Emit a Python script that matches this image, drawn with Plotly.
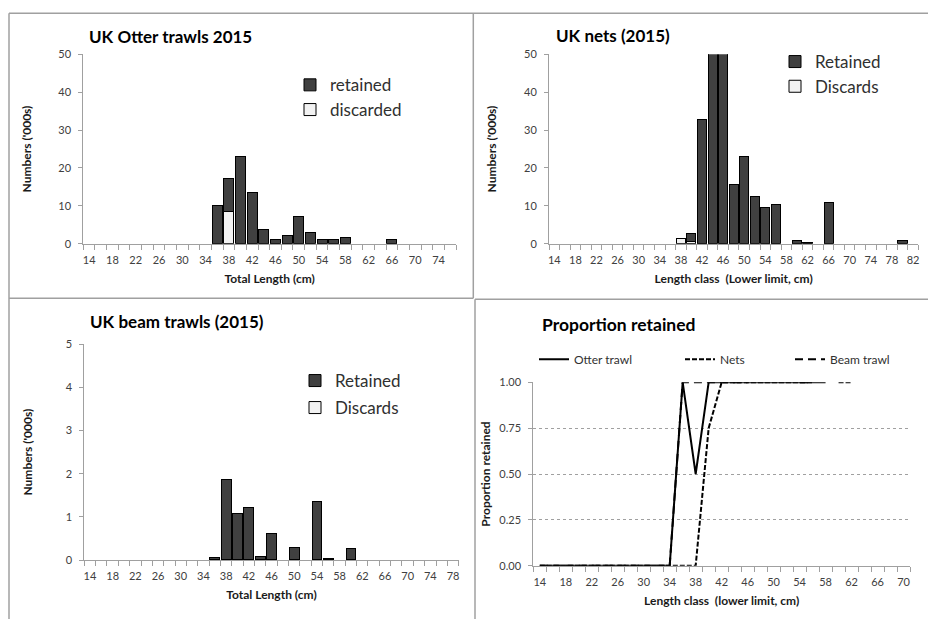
import plotly.graph_objects as go

# ---------------- data ----------------
otter_len = [14, 16, 18, 20, 22, 24, 26, 28, 30, 32, 34, 36, 38, 40, 42, 44, 46, 48, 50, 52,
             54, 56, 58, 60, 62, 64, 66, 68, 70, 72, 74, 76]
otter_retained = [0, 0, 0, 0, 0, 0, 0, 0, 0, 0, 0, 10.0, 8.7, 23.1, 13.6, 3.7, 1.1, 2.1, 7.3, 2.9,
                  1.1, 1.1, 1.6, 0, 0, 0, 1.1, 0, 0, 0, 0, 0]
otter_discarded = [0, 0, 0, 0, 0, 0, 0, 0, 0, 0, 0, 0, 8.4, 0, 0, 0, 0, 0, 0, 0,
                   0, 0, 0, 0, 0, 0, 0, 0, 0, 0, 0, 0]

nets_len = [14, 16, 18, 20, 22, 24, 26, 28, 30, 32, 34, 36, 38, 40, 42, 44, 46, 48, 50, 52,
            54, 56, 58, 60, 62, 64, 66, 68, 70, 72, 74, 76, 78, 80, 82]
nets_retained = [0, 0, 0, 0, 0, 0, 0, 0, 0, 0, 0, 0, 0, 2.05, 32.8, 55, 55, 15.6, 22.9, 12.5,
                 9.5, 10.4, 0, 0.9, 0.4, 0, 10.8, 0, 0, 0, 0, 0, 0, 0.9, 0]
nets_discards = [0, 0, 0, 0, 0, 0, 0, 0, 0, 0, 0, 0, 1.3, 0.65, 0, 0, 0, 0, 0, 0,
                 0, 0, 0, 0, 0, 0, 0, 0, 0, 0, 0, 0, 0, 0, 0]

beam_len = [14, 16, 18, 20, 22, 24, 26, 28, 30, 32, 34, 36, 38, 40, 42, 44, 46, 48, 50, 52,
            54, 56, 58, 60, 62, 64, 66, 68, 70, 72, 74, 76, 78]
beam_retained = [0, 0, 0, 0, 0, 0, 0, 0, 0, 0, 0, 0.05, 1.87, 1.08, 1.22, 0.09, 0.62, 0, 0.28, 0,
                 1.36, 0.03, 0, 0.26, 0, 0, 0, 0, 0, 0, 0, 0, 0]
beam_discards = [0, 0, 0, 0, 0, 0, 0, 0, 0, 0, 0, 0, 0, 0, 0, 0, 0, 0, 0, 0,
                 0, 0, 0, 0, 0, 0, 0, 0, 0, 0, 0, 0, 0]

prop_len = [14, 16, 18, 20, 22, 24, 26, 28, 30, 32, 34, 36, 38, 40, 42, 44, 46, 48, 50, 52,
            54, 56, 58, 60, 62, 64, 66, 68, 70]
prop_otter = [0, 0, 0, 0, 0, 0, 0, 0, 0, 0, 0, 1, 0.5, 1, 1, 1, 1, 1, 1, 1,
              1, 1, 1, None, None, None, 1, None, None]
prop_nets = [0, 0, 0, 0, 0, 0, 0, 0, 0, 0, 0, 0, 0, 0.75, 1, 1, 1, 1, 1, 1,
             1, 1, None, 1, 1, None, 1, None, None]
prop_beam = [0, 0, 0, 0, 0, 0, 0, 0, 0, 0, 0, 1, 1, 1, 1, 1, 1, None, 1, None,
             1, 1, None, 1, None, None, None, None, None]

otter_ticks = [14, 18, 22, 26, 30, 34, 38, 42, 46, 50, 54, 58, 62, 66, 70, 74]
nets_ticks = [14, 18, 22, 26, 30, 34, 38, 42, 46, 50, 54, 58, 62, 66, 70, 74, 78, 82]
beam_ticks = [14, 18, 22, 26, 30, 34, 38, 42, 46, 50, 54, 58, 62, 66, 70, 74, 78]
prop_ticks = [14, 18, 22, 26, 30, 34, 38, 42, 46, 50, 54, 58, 62, 66, 70]

# ---------------- styling helpers ----------------
W, H = 928, 619
FONT = "Lato"
DARK = "#404040"
LIGHT = "#f2f2f2"
AXIS = "#a0a0a0"
TICKTXT = "#404040"


def px(x):
    return x / W


def py(y):
    return 1 - y / H


def nz(vals):
    # empty length classes are left blank (no zero-height outline drawn)
    return [v if v else None for v in vals]


fig = go.Figure()


def add_bars(xs, ret, dis, xa, ya, ret_name, dis_name, leg_r, leg_d):
    fig.add_trace(go.Bar(x=xs, y=nz(dis), name=dis_name, xaxis=xa, yaxis=ya,
                         marker=dict(color=LIGHT, line=dict(color="#000000", width=1)),
                         legend=leg_d, showlegend=True))
    fig.add_trace(go.Bar(x=xs, y=nz(ret), name=ret_name, xaxis=xa, yaxis=ya,
                         marker=dict(color=DARK, line=dict(color="#000000", width=1)),
                         legend=leg_r, showlegend=True))


add_bars(otter_len, otter_retained, otter_discarded, "x", "y", "retained", "discarded", "legend", "legend2")
add_bars(nets_len, nets_retained, nets_discards, "x2", "y2", "Retained", "Discards", "legend3", "legend4")
add_bars(beam_len, beam_retained, beam_discards, "x3", "y3", "Retained", "Discards", "legend5", "legend6")

fig.add_trace(go.Scatter(x=prop_len, y=prop_otter, name="Otter trawl", mode="lines", xaxis="x4", yaxis="y4",
                         line=dict(color="#000000", width=2), cliponaxis=False, legend="legend7",
                         connectgaps=False, showlegend=True))
fig.add_trace(go.Scatter(x=prop_len, y=prop_nets, name="Nets", mode="lines", xaxis="x4", yaxis="y4",
                         line=dict(color="#000000", width=2, dash="5px,2px"), cliponaxis=False,
                         legend="legend8", connectgaps=False, showlegend=True))
fig.add_trace(go.Scatter(x=prop_len, y=prop_beam, name="Beam trawl", mode="lines", xaxis="x4", yaxis="y4",
                         line=dict(color="#000000", width=2, dash="8px,5px"), cliponaxis=False,
                         legend="legend9", connectgaps=False, showlegend=True))

tickfont = dict(family=FONT, size=11, color=TICKTXT)
titlefont = dict(family=FONT, size=12, color="#1a1a1a", weight="bold")


def xaxis(domain, rng, ticks, anchor, title):
    return dict(domain=domain, range=rng, anchor=anchor, tickmode="array", tickvals=ticks,
                ticktext=[str(t) for t in ticks], ticks="outside", ticklen=6,
                tickcolor="rgba(0,0,0,0)", tickfont=tickfont, showline=True, linecolor=AXIS,
                linewidth=1, showgrid=False, zeroline=False, fixedrange=True,
                minor=dict(ticks="outside", ticklen=5, tickcolor=AXIS, tickwidth=1, tick0=13,
                           dtick=2, showgrid=False),
                title=dict(text=title, font=titlefont, standoff=9))


def yaxis(domain, rng, dtick, anchor, title, fmt=None, grid=False, standoff=24):
    d = dict(domain=domain, range=rng, anchor=anchor, dtick=dtick, tick0=0, ticks="outside",
             ticklen=4, tickcolor=AXIS, tickfont=tickfont, showline=True, linecolor=AXIS,
             linewidth=1, zeroline=False, fixedrange=True, ticklabelstandoff=5,
             showgrid=grid, title=dict(text=title, font=titlefont, standoff=standoff))
    if grid:
        d.update(gridcolor=AXIS, griddash="dot", gridwidth=1)
    if fmt:
        d["tickformat"] = fmt
    return d


# plot areas (pixel positions converted to paper)
dom_otter_x = [px(83.3), px(456)]
dom_top_y = [py(243.7), py(54.3)]
dom_nets_x = [px(549), px(918.3)]
dom_beam_x = [px(84.3), px(458.7)]
dom_beam_y = [py(560), py(344.3)]
dom_prop_x = [px(533.3), px(910)]
dom_prop_y = [py(565.7), py(382.3)]

fig.update_layout(
    width=W, height=H, margin=dict(l=0, r=0, t=0, b=0, autoexpand=False),
    paper_bgcolor="white", plot_bgcolor="white",
    barmode="stack", bargap=0.14, showlegend=True,
    font=dict(family=FONT, color="#222"),
    xaxis=xaxis(dom_otter_x, [13, 77], otter_ticks, "y", "Total Length (cm)"),
    yaxis=yaxis(dom_top_y, [0, 50], 10, "x", "Numbers ('000s)"),
    xaxis2=xaxis(dom_nets_x, [13, 83], nets_ticks, "y2", "Length class  (Lower limit, cm)"),
    yaxis2=yaxis(dom_top_y, [0, 50], 10, "x2", "Numbers ('000s)"),
    xaxis3=xaxis(dom_beam_x, [13, 79], beam_ticks, "y3", "Total Length (cm)"),
    yaxis3=yaxis(dom_beam_y, [0, 5], 1, "x3", "Numbers ('000s)", standoff=30),
    xaxis4=xaxis(dom_prop_x, [13, 71], prop_ticks, "y4", "Length class  (lower limit, cm)"),
    yaxis4=yaxis(dom_prop_y, [0, 1], 0.25, "x4", "Proportion retained", fmt=".2f", grid=True,
                 standoff=6),
)

# legends
legfont_bar = dict(family=FONT, size=17, color="#303030")
legfont_line = dict(family=FONT, size=12, color="#303030")


def leg(xl, yc, font):
    return dict(x=px(xl), y=py(yc), xanchor="left", yanchor="middle", bgcolor="rgba(0,0,0,0)",
                font=font, borderwidth=0)


fig.update_layout(
    legend=leg(290, 85.3, legfont_bar),
    legend2=leg(290, 110, legfont_bar),
    legend3=leg(775, 62, legfont_bar),
    legend4=leg(775, 86.7, legfont_bar),
    legend5=leg(295, 381, legfont_bar),
    legend6=leg(295, 408, legfont_bar),
    legend7=leg(534, 359.3, legfont_line),
    legend8=leg(680, 359.3, legfont_line),
    legend9=leg(790, 359.3, legfont_line),
)

# chart titles
titles = [("UK Otter trawls 2015", 87, 36.7, 17), ("UK nets (2015)", 553.7, 35.5, 17),
          ("UK beam trawls (2015)", 87.7, 321.3, 17), ("Proportion retained", 540.3, 324.7, 17.5)]
for txt, xl, yc, fs in titles:
    fig.add_annotation(text=txt, x=px(xl), y=py(yc), xref="paper", yref="paper", xanchor="left",
                       yanchor="middle", showarrow=False,
                       font=dict(family=FONT, size=fs, color="#000000", weight="bold"))

# panel borders
BORDER = dict(color="#a0a0a0", width=1.5)
segments = [(9, 13.3, 928, 13.3), (9, 13.3, 9, 619), (473.3, 13.3, 473.3, 298.3),
            (9, 298.3, 473.3, 298.3), (475, 299.3, 928, 299.3), (475, 299.3, 475, 619)]
for x0, y0, x1, y1 in segments:
    fig.add_shape(type="line", xref="paper", yref="paper", x0=px(x0), y0=py(y0), x1=px(x1),
                  y1=py(y1), line=BORDER)

fig.write_html("out.html", config={"displayModeBar": False},
               post_script="document.body.style.margin='0';document.body.style.overflow='hidden';")
